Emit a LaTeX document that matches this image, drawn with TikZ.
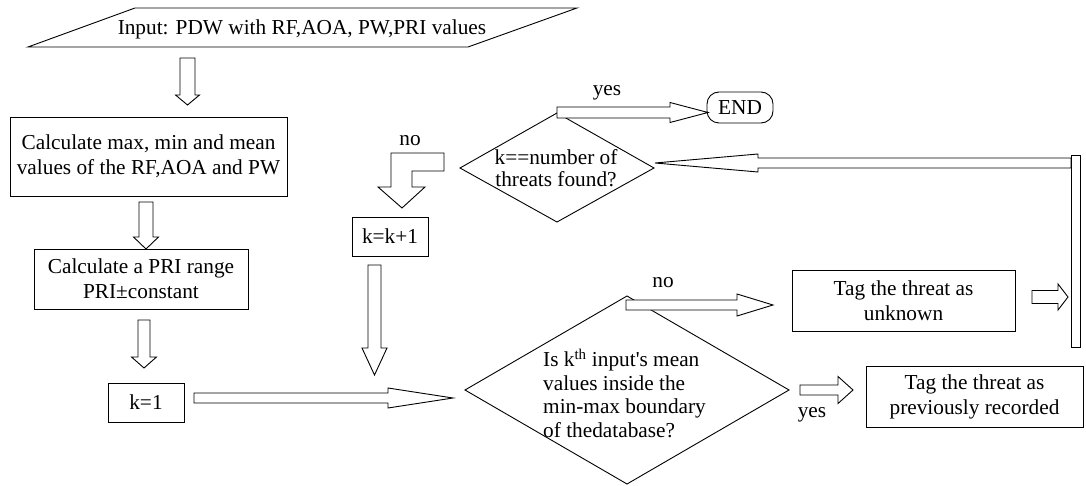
\documentclass[tikz,border=0pt]{standalone}
\usepackage{fontspec}
\setmainfont{Liberation Serif}
\tikzset{
  blk/.style={draw=black, fill=white, line width=0.9pt, line join=miter},
  box/.style={draw=black, line width=0.9pt, align=center, inner sep=0pt},
  txt/.style={align=center, inner sep=0pt},
  lbl/.style={inner sep=0pt}
}
% horizontal block arrow: x1, x(head base), x(tip), y centre, shaft half width, head half width
\newcommand\harr[6]{\draw[blk] (#1,{#4-#5}) -- (#2,{#4-#5}) -- (#2,{#4-#6}) -- (#3,#4) -- (#2,{#4+#6}) -- (#2,{#4+#5}) -- (#1,{#4+#5}) -- cycle;}
% vertical block arrow: x centre, y1, y(head base), y(tip), shaft half width, head half width
\newcommand\varr[6]{\draw[blk] ({#1-#5},#2) -- ({#1-#5},#3) -- ({#1-#6},#3) -- (#1,#4) -- ({#1+#6},#3) -- ({#1+#5},#3) -- ({#1+#5},#2) -- cycle;}
\begin{document}
\begin{tikzpicture}[x=1pt,y=-1pt,font=\fontsize{21.3}{25}\selectfont]
\useasboundingbox (0,0) rectangle (1086,486);
% input parallelogram
\draw[line width=0.9pt] (28,47) -- (135,8) -- (577,8) -- (468,47) -- cycle;
\node[txt] (input) at (302,29) {Input: PDW with RF,AOA, PW,PRI values};
% boxes
\node[box, minimum width=277pt, minimum height=79pt] (box1) at (148.5,156.5) {Calculate max, min and mean\\values of the RF,AOA and PW};
\node[box, minimum width=214pt, minimum height=60pt] (box2) at (141,279) {Calculate a PRI range\\PRI\textpm constant};
\node[box, minimum width=76pt, minimum height=39pt] (k1) at (146,402.5) {k=1};
\node[box, minimum width=76pt, minimum height=39pt] (kk1) at (390,236.5) {k=k+1};
\node[box, minimum width=223pt, minimum height=61pt] (unknown) at (903.5,300.5) {Tag the threat as\\unknown};
\node[box, minimum width=217pt, minimum height=61pt] (recorded) at (974.5,396.5) {Tag the threat as\\previously recorded};
\node[box, rounded corners=12pt, minimum width=66pt, minimum height=31pt] (end) at (740,107.5) {END};
% decision 1
\draw[line width=0.9pt] (557,113) -- (654,168) -- (557,222) -- (460,168) -- cycle;
\node[txt, font=\fontsize{21.3}{22}\selectfont] (dec1) at (556,168) {k==number of\\threats found?};
% decision 2
\draw[line width=0.9pt] (627,296) -- (789,390) -- (627,484) -- (465,390) -- cycle;
\node[lbl, align=left, anchor=west, font=\fontsize{21.3}{23.5}\selectfont] (dec2) at (543,393) {Is k\textsuperscript{th} input\textquotesingle s mean\\values inside the\\min-max boundary\\of thedatabase?};
% block arrows
\varr{187.5}{58}{95}{105}{7.5}{12}
\varr{146}{202}{237}{249}{7}{12.5}
\varr{144}{320}{357}{368}{6}{12.5}
\harr{194}{388}{453}{398}{5}{10}
\varr{374.5}{265}{348}{375}{6.5}{12.5}
\draw[blk] (444,153) -- (444,171) -- (412,171) -- (412,187) -- (425,187) -- (402,208) -- (378,187) -- (391,187) -- (391,153) -- cycle;
\harr{557}{670}{708}{112.5}{5.5}{10}
\harr{1071}{758}{655}{163}{5}{9}
\draw[blk] (1071,155) rectangle (1080,347);
\harr{1032}{1058}{1068}{297}{6.5}{13}
\harr{626}{737}{773}{305}{5}{11}
\harr{800}{838}{853}{390}{5}{13.5}
% labels
\node[lbl] (yes1) at (607,93) {yes};
\node[lbl] (no1) at (410,141) {no};
\node[lbl] (no2) at (663,283) {no};
\node[lbl] (yes2) at (812,415) {yes};
\end{tikzpicture}
\end{document}
